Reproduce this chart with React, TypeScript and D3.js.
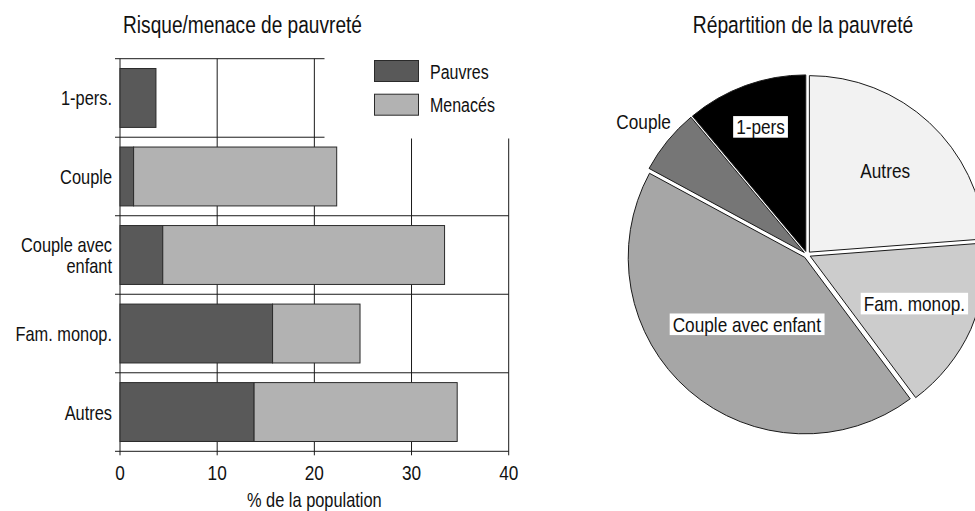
import React, { useEffect, useRef } from "react";
import * as d3 from "d3";

const categories = ["1-pers.", "Couple", "Couple avec enfant", "Fam. monop.", "Autres"];
const pauvres = [3.7, 1.4, 4.4, 15.7, 13.8];
const menaces = [0, 20.9, 29.0, 9.0, 20.9];
const xTicks = [0, 10, 20, 30, 40];
const seriesNames = ["Pauvres", "Menacés"];

const pieLabels = ["Autres", "Fam. monop.", "Couple avec enfant", "Couple", "1-pers"];
const pieShares = [23.8, 16.0, 43.1, 6.0, 11.1];

const FONT = "'Liberation Sans', Arial, sans-serif";
const SX = 0.82; // horizontal condensing to mimic a narrow face

type Sel = d3.Selection<any, unknown, null, undefined>;

function addText(parent: Sel, x: number, y: number, str: string, size: number, anchor: string) {
  const g = parent.append("g").attr("transform", `translate(${x},${y}) scale(${SX},1)`);
  const t = g.append("text")
    .attr("x", 0).attr("y", 0)
    .attr("text-anchor", anchor)
    .attr("font-size", size)
    .attr("fill", "#111")
    .text(str);
  return { g, t };
}

export default function App() {
  const ref = useRef<SVGSVGElement | null>(null);

  useEffect(() => {
    const svg = d3.select(ref.current) as unknown as Sel;
    svg.selectAll("*").remove();
    svg.style("font-family", FONT);

    // ---------- Bar chart ----------
    const x = d3.scaleLinear().domain([0, 40]).range([120, 508.7]);
    const y = d3.scaleBand<string>().domain(categories).range([58.7, 451.3]).padding(0);
    const bw = y.bandwidth();
    const barInset = bw * 0.125;
    const barH = bw * 0.75;
    const lineColor = "#1a1a1a";

    const g = svg.append("g");

    xTicks.forEach((t) => {
      g.append("line")
        .attr("x1", x(t)).attr("x2", x(t))
        .attr("y1", y.range()[0]).attr("y2", y.range()[1] + 4)
        .attr("stroke", lineColor).attr("stroke-width", 1);
    });
    const bounds = categories.map((c) => y(c) as number).concat([y.range()[1]]);
    bounds.forEach((b) => {
      g.append("line")
        .attr("x1", x(0) - 5).attr("x2", x(40))
        .attr("y1", b).attr("y2", b)
        .attr("stroke", lineColor).attr("stroke-width", 1);
    });

    categories.forEach((c, i) => {
      const y0 = (y(c) as number) + barInset;
      g.append("rect")
        .attr("x", x(0)).attr("y", y0)
        .attr("width", x(pauvres[i]) - x(0)).attr("height", barH)
        .attr("fill", "#595959").attr("stroke", "#2a2a2a").attr("stroke-width", 1);
      if (menaces[i] > 0) {
        g.append("rect")
          .attr("x", x(pauvres[i])).attr("y", y0)
          .attr("width", x(pauvres[i] + menaces[i]) - x(pauvres[i])).attr("height", barH)
          .attr("fill", "#b2b2b2").attr("stroke", "#2a2a2a").attr("stroke-width", 1);
      }
    });

    categories.forEach((c) => {
      const cy = (y(c) as number) + bw / 2;
      if (c === "Couple avec enfant") {
        addText(g, 112, cy - 2.8, "Couple avec", 20, "end");
        addText(g, 112, cy + 18.2, "enfant", 20, "end");
      } else {
        addText(g, 112, cy + 7.5, c, 20, "end");
      }
    });

    xTicks.forEach((t) => {
      addText(g, x(t), 479.5, String(t), 21, "middle");
    });
    addText(g, (x(0) + x(40)) / 2, 507, "% de la population", 20, "middle");

    g.append("rect").attr("x", 324.5).attr("y", 40).attr("width", 215).attr("height", 98.5).attr("fill", "#fff");
    const legendColors = ["#595959", "#b2b2b2"];
    seriesNames.forEach((s, i) => {
      const ly = 60.5 + i * 33.7;
      g.append("rect")
        .attr("x", 374.5).attr("y", ly).attr("width", 44).attr("height", 21)
        .attr("fill", legendColors[i]).attr("stroke", "#2a2a2a").attr("stroke-width", 1);
      addText(g, 430, ly + 18, s, 19.5, "start");
    });

    addText(svg, 242.5, 33, "Risque/menace de pauvreté", 23.3, "middle");

    // ---------- Pie chart ----------
    const cx = 807, cy = 254.7, R = 176.5;
    const explode = 3.5;
    const pieColors = ["#f2f2f2", "#cccccc", "#a6a6a6", "#767676", "#000000"];
    const labelRadius = [115, 118, 92, 211, 136];
    const boxed = [false, true, true, false, true];

    const arcs = d3.pie<number>().sort(null).value((d) => d)(pieShares);
    const arc = d3.arc<d3.PieArcDatum<number>>().innerRadius(0).outerRadius(R);
    const pg = svg.append("g").attr("transform", `translate(${cx},${cy})`);

    arcs.forEach((a, i) => {
      const mid = (a.startAngle + a.endAngle) / 2;
      const dx = Math.sin(mid) * explode, dy = -Math.cos(mid) * explode;
      pg.append("path")
        .attr("d", arc(a) as string)
        .attr("transform", `translate(${dx},${dy})`)
        .attr("fill", pieColors[i]).attr("stroke", "#1a1a1a").attr("stroke-width", 1);
    });

    arcs.forEach((a, i) => {
      const mid = (a.startAngle + a.endAngle) / 2;
      const lx = Math.sin(mid) * labelRadius[i];
      const ly = -Math.cos(mid) * labelRadius[i];
      const { g: lg, t } = addText(pg, lx, ly + 7.5, pieLabels[i], 21, "middle");
      if (boxed[i]) {
        const bb = (t.node() as SVGTextElement).getBBox();
        lg.insert("rect", "text")
          .attr("x", bb.x - 3 / SX).attr("y", -18.3)
          .attr("width", bb.width + 6 / SX).attr("height", 21.6)
          .attr("fill", "#fff");
      }
    });

    addText(svg, 803, 33, "Répartition de la pauvreté", 23.5, "middle");
  }, []);

  return (
    <svg
      ref={ref}
      width={975}
      height={511}
      style={{ position: "absolute", left: 0, top: 0, background: "#fff" }}
    />
  );
}
